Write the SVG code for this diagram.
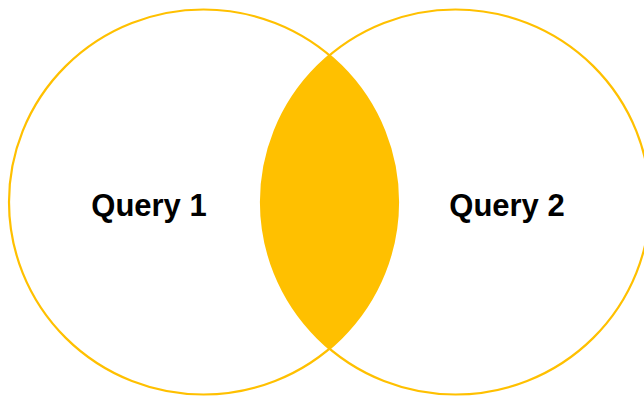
<svg xmlns="http://www.w3.org/2000/svg" width="644" height="396" viewBox="0 0 644 396">
<style>
.ring{fill:none;stroke:#FFC000;stroke-width:2.2}
.lens{fill:#FFC000;stroke:none}
.lbl{font-family:"Liberation Sans",Arial,sans-serif;font-weight:bold;font-size:31px;fill:#000;text-anchor:middle}
</style>
<rect width="644" height="396" fill="#fff"/>
<g id="intersection">
<path class="lens" d="M329.5,55.4 A194.5,192.5 0 0 1 329.5,348.6 A194.5,192.5 0 0 1 329.5,55.4 Z"/>
</g>
<g id="query1">
<ellipse class="ring" cx="203.5" cy="202" rx="194.5" ry="192.5"/>
<text class="lbl" x="149" y="216">Query 1</text>
</g>
<g id="query2">
<ellipse class="ring" cx="455.5" cy="202" rx="194.5" ry="192.5"/>
<text class="lbl" x="507" y="216">Query 2</text>
</g>
</svg>
